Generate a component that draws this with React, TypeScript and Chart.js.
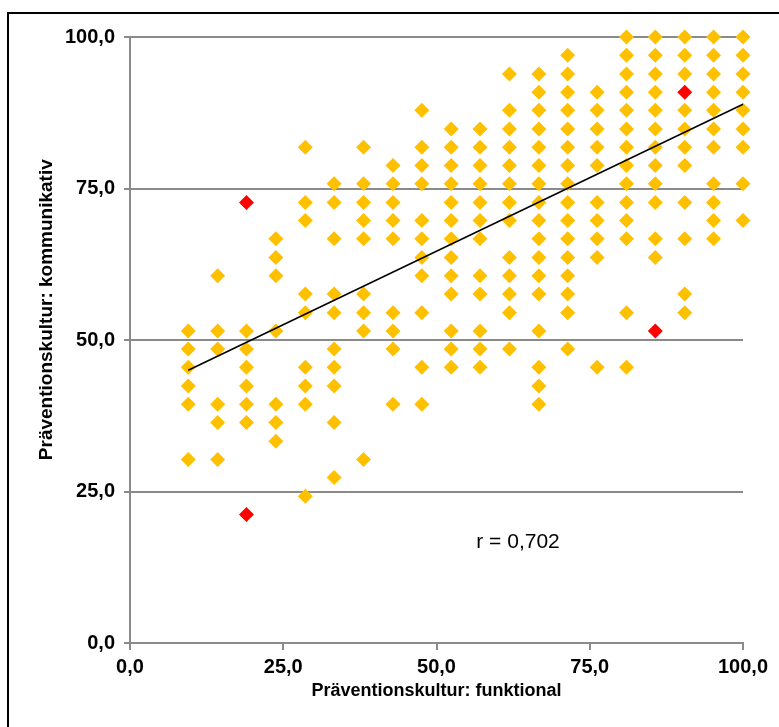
import React, { useEffect, useRef } from "react";
import { Chart, registerables } from "chart.js";

Chart.register(...registerables);

// ---- Data ----
const xTitle = "Präventionskultur: funktional";
const yTitle = "Präventionskultur: kommunikativ";
const tickValues = [0, 25, 50, 75, 100];
const tickLabels = ["0,0", "25,0", "50,0", "75,0", "100,0"];

// x positions of the point columns
const xColumns = [9.5, 14.3, 19.0, 23.8, 28.6, 33.3, 38.1, 42.9, 47.6, 52.4, 57.1, 61.9, 66.7, 71.4, 76.2, 81.0, 85.7, 90.5, 95.2, 100.0];

// y values of the (yellow) points in each column
const col01 = [51.5, 48.5, 45.5, 42.4, 39.4, 30.3];
const col02 = [60.6, 51.5, 48.5, 39.4, 36.4, 30.3];
const col03 = [51.5, 48.5, 45.5, 42.4, 39.4, 36.4];
const col04 = [66.7, 63.6, 60.6, 51.5, 39.4, 36.4, 33.3];
const col05 = [81.8, 72.7, 69.7, 57.6, 54.5, 45.5, 42.4, 39.4, 24.2];
const col06 = [75.8, 72.7, 66.7, 57.6, 54.5, 48.5, 45.5, 42.4, 36.4, 27.3];
const col07 = [81.8, 75.8, 72.7, 69.7, 66.7, 57.6, 54.5, 51.5, 30.3];
const col08 = [78.8, 75.8, 72.7, 69.7, 66.7, 54.5, 51.5, 48.5, 39.4];
const col09 = [87.9, 81.8, 78.8, 75.8, 69.7, 66.7, 63.6, 60.6, 54.5, 45.5, 39.4];
const col10 = [84.8, 81.8, 78.8, 75.8, 72.7, 69.7, 66.7, 63.6, 60.6, 57.6, 51.5, 48.5, 45.5];
const col11 = [84.8, 81.8, 78.8, 75.8, 72.7, 69.7, 66.7, 60.6, 57.6, 51.5, 48.5, 45.5];
const col12 = [93.9, 87.9, 84.8, 81.8, 78.8, 75.8, 72.7, 69.7, 63.6, 60.6, 57.6, 54.5, 48.5];
const col13 = [93.9, 90.9, 87.9, 84.8, 81.8, 78.8, 75.8, 72.7, 69.7, 66.7, 63.6, 60.6, 57.6, 51.5, 45.5, 42.4, 39.4];
const col14 = [97.0, 93.9, 90.9, 87.9, 84.8, 81.8, 78.8, 75.8, 72.7, 69.7, 66.7, 63.6, 60.6, 57.6, 54.5, 48.5];
const col15 = [90.9, 87.9, 84.8, 81.8, 78.8, 72.7, 69.7, 66.7, 63.6, 45.5];
const col16 = [100.0, 97.0, 93.9, 90.9, 87.9, 84.8, 81.8, 78.8, 75.8, 72.7, 69.7, 66.7, 54.5, 45.5];
const col17 = [100.0, 97.0, 93.9, 90.9, 87.9, 84.8, 81.8, 78.8, 75.8, 72.7, 66.7, 63.6];
const col18 = [100.0, 97.0, 93.9, 87.9, 84.8, 81.8, 78.8, 72.7, 66.7, 57.6, 54.5];
const col19 = [100.0, 97.0, 93.9, 90.9, 87.9, 84.8, 81.8, 75.8, 72.7, 69.7, 66.7];
const col20 = [100.0, 97.0, 93.9, 90.9, 87.9, 84.8, 81.8, 75.8, 69.7];
const yColumns = [col01, col02, col03, col04, col05, col06, col07, col08, col09, col10,
  col11, col12, col13, col14, col15, col16, col17, col18, col19, col20];

// highlighted (red) points
const redX = [19.0, 19.0, 85.7, 90.5];
const redY = [72.7, 21.2, 51.5, 90.9];

// regression line end points
const trendX = [9.5, 100.0];
const trendY = [45.0, 88.9];

const rText = "r = 0,702";
const rPosX = 63.3;
const rPosY = 16.7;
// vertical centre of the y-axis title, in data units
const yTitleCenter = 55;

// ---- Styles ----
const FONT = '"Liberation Sans", Arial, Helvetica, sans-serif';
const YELLOW = "#FFC000";
const RED = "#FF0000";
const GRID = "#8a8a8a";

const yellowPoints = xColumns.flatMap((x, i) => yColumns[i].map((y) => ({ x, y })));
const redPoints = redX.map((x, i) => ({ x, y: redY[i] }));
const trendPoints = trendX.map((x, i) => ({ x, y: trendY[i] }));

const fmtTick = (v: number) => {
  const idx = tickValues.indexOf(Number(v));
  return idx >= 0 ? tickLabels[idx] : "";
};

const textPlugin = {
  id: "texts",
  afterDatasetsDraw(chart: any) {
    const { ctx, scales } = chart;
    ctx.save();
    ctx.font = `21px ${FONT}`;
    ctx.fillStyle = "#000";
    ctx.textAlign = "center";
    ctx.textBaseline = "middle";
    ctx.fillText(rText, scales.x.getPixelForValue(rPosX), scales.y.getPixelForValue(rPosY));
    ctx.restore();

    // y-axis title (rotated)
    ctx.save();
    ctx.font = `bold 19px ${FONT}`;
    ctx.fillStyle = "#000";
    ctx.textAlign = "center";
    ctx.textBaseline = "middle";
    ctx.translate(scales.y.left + 37, scales.y.getPixelForValue(yTitleCenter));
    ctx.rotate(-Math.PI / 2);
    ctx.fillText(yTitle, 0, 0);
    ctx.restore();
  },
};

export default function App() {
  const ref = useRef<HTMLCanvasElement>(null);

  useEffect(() => {
    if (!ref.current) return;
    const chart = new Chart(ref.current, {
      type: "scatter",
      data: {
        datasets: [
          {
            type: "line",
            data: trendPoints,
            borderColor: "#000",
            borderWidth: 1.5,
            pointRadius: 0,
            fill: false,
            order: 0,
            clip: false,
          } as any,
          {
            data: redPoints,
            pointStyle: "rectRot",
            pointRadius: 7.5,
            backgroundColor: RED,
            borderWidth: 0,
            order: 1,
            clip: false,
          },
          {
            data: yellowPoints,
            pointStyle: "rectRot",
            pointRadius: 7.5,
            backgroundColor: YELLOW,
            borderWidth: 0,
            order: 2,
            clip: false,
          },
        ],
      },
      options: {
        animation: false,
        responsive: false,
        events: [],
        layout: { padding: { left: 10, top: 37, right: 36, bottom: 10 } },
        plugins: {
          legend: { display: false },
          tooltip: { enabled: false },
        },
        scales: {
          x: {
            type: "linear",
            min: 0,
            max: 100,
            afterFit: (s: any) => {
              s.height = 74;
            },
            afterBuildTicks: (s: any) => {
              s.ticks = tickValues.map((v) => ({ value: v }));
            },
            ticks: {
              padding: 5,
              color: "#000",
              font: { family: FONT, size: 20, weight: "bold" },
              callback: (v: any) => fmtTick(v),
              maxRotation: 0,
            },
            grid: {
              drawOnChartArea: false,
              drawTicks: true,
              tickLength: 7,
              color: GRID,
              lineWidth: 2,
            },
            border: { color: GRID, width: 2 },
            title: {
              display: true,
              text: xTitle,
              color: "#000",
              font: { family: FONT, size: 18, weight: "bold" },
              padding: { top: 0, bottom: 15 },
            },
          },
          y: {
            type: "linear",
            min: 0,
            max: 100,
            afterFit: (s: any) => {
              s.width = 120;
            },
            afterBuildTicks: (s: any) => {
              s.ticks = tickValues.map((v) => ({ value: v }));
            },
            ticks: {
              padding: 9,
              color: "#000",
              font: { family: FONT, size: 20, weight: "bold" },
              callback: (v: any) => fmtTick(v),
            },
            grid: {
              drawTicks: true,
              tickLength: 6,
              color: GRID,
              lineWidth: 2,
            },
            border: { color: GRID, width: 2 },
            title: { display: false },
          },
        },
      },
      plugins: [textPlugin],
    });
    return () => chart.destroy();
  }, []);

  return (
    <div style={{ position: "absolute", left: 0, top: 0, width: 779, height: 727, background: "#fff" }}>
      <canvas ref={ref} width={779} height={727} style={{ display: "block", width: 779, height: 727 }} />
      <div
        style={{
          position: "absolute",
          left: 7,
          top: 12,
          right: 0,
          bottom: 0,
          borderLeft: "2px solid #000",
          borderTop: "2px solid #000",
          pointerEvents: "none",
        }}
      />
    </div>
  );
}
